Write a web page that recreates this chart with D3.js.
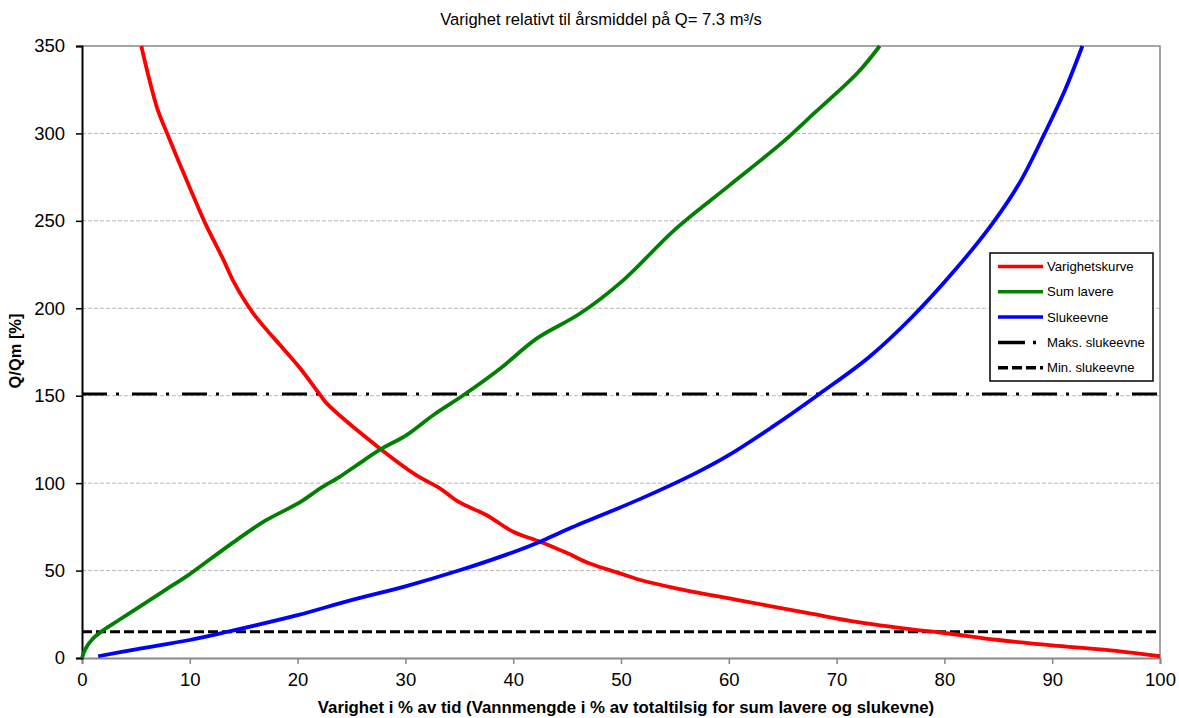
<!DOCTYPE html>
<html>
<head>
<meta charset="utf-8">
<script src="https://cdn.jsdelivr.net/npm/d3@7"></script>
<style>
  body { margin: 0; background: #fff; }
  svg { font-family: Arial, "Liberation Sans", sans-serif; }
</style>
</head>
<body>
<div id="chart"></div>
<script>
/**
 * DATA
 * */
const xTicks = [0, 10, 20, 30, 40, 50, 60, 70, 80, 90, 100];
const yTicks = [0, 50, 100, 150, 200, 250, 300, 350];

// Varighetskurve [x %, Q/Qm %]
const varighet = [
  [5.5, 350], [6.2, 332], [7.05, 313], [7.9, 300], [8.9, 285], [10, 269], [11.4, 249],
  [13.1, 228], [14, 216], [15.9, 197], [18.8, 176], [20.2, 166], [22.1, 150.4],
  [22.7, 145.6], [27.6, 120], [31, 104.6], [33.2, 97], [34.9, 89.4], [37.5, 81.8],
  [40, 72.2], [42.5, 66.5], [45, 60], [47.1, 54], [49.9, 48.4], [51.8, 44.6], [55, 40],
  [61, 33], [67.5, 25.5], [72, 20.5], [76.8, 16.5], [80, 14.3], [85, 10.3], [90, 7.2],
  [95, 4.6], [100, 1]
];
// Sum lavere
const sumLavere = [
  [0, 0], [0.3, 5], [1, 11], [2, 16], [3.5, 22], [5, 28], [7.5, 38], [10, 48], [12, 57],
  [14, 66], [17, 78.5], [20.2, 89], [22.1, 97], [23.9, 103.6], [25.5, 110.3], [27.6, 119],
  [30.1, 127.5], [32.6, 139], [35.4, 150.4], [38.8, 165.6], [42.2, 182.8], [46.2, 197],
  [50.2, 216], [55, 245], [60, 270], [65, 295], [68, 312], [72, 335], [74, 350]
];
// Slukeevne
const slukeevne = [
  [1.5, 1], [5, 5], [10, 10.3], [13.5, 15], [20, 24.5], [24.9, 33], [30, 41], [35.1, 50.3],
  [40, 60.5], [42.5, 66.5], [45, 73.5], [51.8, 91], [56.7, 105], [60, 116], [64, 132],
  [68.4, 151], [73, 172], [77, 195], [81, 222], [84.4, 248], [87, 272], [89.3, 300],
  [91.2, 325], [92.8, 350]
];
const maksSlukeevne = 151;
const minSlukeevne = 15;

const legendItems = ["Varighetskurve", "Sum lavere", "Slukeevne", "Maks. slukeevne", "Min. slukeevne"];

/**
 * CONSTANTS
 * */
const width = 1179, height = 718;
const margin = { top: 46, right: 19, bottom: 60, left: 82 };

const svg = d3.select("#chart").append("svg")
  .attr("width", width)
  .attr("height", height);

const x = d3.scaleLinear().domain([0, 100]).range([margin.left, width - margin.right]);
const y = d3.scaleLinear().domain([0, 350]).range([height - margin.bottom, margin.top]);

// scale a text's font size so it spans the width seen in the picture
function fitWidth(sel, target) {
  const fs = parseFloat(sel.attr("font-size"));
  const w = sel.node().getComputedTextLength();
  if (w > 0) sel.attr("font-size", fs * target / w);
}

// grid
svg.append("g")
  .selectAll("line")
  .data(yTicks.filter(d => d > 0 && d < 350))
  .join("line")
  .attr("x1", x(0)).attr("x2", x(100))
  .attr("y1", d => y(d)).attr("y2", d => y(d))
  .attr("stroke", "#b8b8b8")
  .attr("stroke-dasharray", "4,2");

// top and right border
svg.append("path")
  .attr("d", `M${x(0)},${y(350)}H${x(100)}V${y(0)}`)
  .attr("fill", "none")
  .attr("stroke", "#888")
  .attr("stroke-width", 1.5);

// x axis
const xAxis = svg.append("g")
  .attr("transform", `translate(0,${y(0)})`)
  .call(d3.axisBottom(x).tickValues(xTicks).tickSize(6).tickPadding(9));
xAxis.select(".domain").attr("stroke", "#888").attr("stroke-width", 2);
xAxis.selectAll(".tick line").attr("stroke", "#888").attr("stroke-width", 1.5);
xAxis.selectAll("text").attr("font-size", 18.5).attr("font-family", null).attr("fill", "#000");

// y axis
const yAxis = svg.append("g")
  .attr("transform", `translate(${x(0)},0)`)
  .call(d3.axisLeft(y).tickValues(yTicks).tickSize(6).tickPadding(11));
yAxis.select(".domain").attr("stroke", "#000").attr("stroke-width", 2);
yAxis.selectAll(".tick line").attr("stroke", "#000").attr("stroke-width", 1.5);
yAxis.selectAll("text").attr("font-size", 18.5).attr("font-family", null).attr("fill", "#000");

// horizontal slukeevne lines
svg.append("line")
  .attr("x1", x(0)).attr("x2", x(100))
  .attr("y1", y(maksSlukeevne)).attr("y2", y(maksSlukeevne))
  .attr("stroke", "#000").attr("stroke-width", 3)
  .attr("stroke-dasharray", "25,9,3,13");
svg.append("line")
  .attr("x1", x(0)).attr("x2", x(100))
  .attr("y1", y(minSlukeevne)).attr("y2", y(minSlukeevne))
  .attr("stroke", "#000").attr("stroke-width", 3)
  .attr("stroke-dasharray", "10,4");

// curves
const line = d3.line().x(d => x(d[0])).y(d => y(d[1])).curve(d3.curveCatmullRom.alpha(0.5));
const series = [
  { data: varighet, color: "#ff0000" },
  { data: sumLavere, color: "#008000" },
  { data: slukeevne, color: "#0000ff" }
];
svg.append("g")
  .selectAll("path")
  .data(series)
  .join("path")
  .attr("d", d => line(d.data))
  .attr("fill", "none")
  .attr("stroke", d => d.color)
  .attr("stroke-width", 3.8);

// title
svg.append("text")
  .attr("x", 601).attr("y", 25)
  .attr("text-anchor", "middle")
  .attr("font-size", 15)
  .text("Varighet relativt til årsmiddel på Q= 7.3 m³/s")
  .call(fitWidth, 322);

// axis labels
svg.append("text")
  .attr("x", 626).attr("y", 713)
  .attr("text-anchor", "middle")
  .attr("font-size", 16)
  .attr("font-weight", "bold")
  .text("Varighet i % av tid (Vannmengde i % av totaltilsig for sum lavere og slukevne)")
  .call(fitWidth, 617);
svg.append("text")
  .attr("transform", "translate(21,351) rotate(-90)")
  .attr("text-anchor", "middle")
  .attr("font-size", 15)
  .attr("font-weight", "bold")
  .text("Q/Qm [%]")
  .call(fitWidth, 75);

// legend
const lg = svg.append("g").attr("transform", "translate(990,253)");
lg.append("rect")
  .attr("width", 163).attr("height", 128)
  .attr("fill", "#fff")
  .attr("stroke", "#000").attr("stroke-width", 1.5);
const legendStyles = [
  { color: "#ff0000", dash: null },
  { color: "#008000", dash: null },
  { color: "#0000ff", dash: null },
  { color: "#000", dash: "27,8,3,10" },
  { color: "#000", dash: "10,4" }
];
const rows = lg.selectAll("g.row")
  .data(legendItems)
  .join("g")
  .attr("class", "row")
  .attr("transform", (d, i) => `translate(0,${13.5 + i * 25.3})`);
rows.append("line")
  .attr("x1", 8).attr("x2", 53)
  .attr("stroke", (d, i) => legendStyles[i].color)
  .attr("stroke-width", 3.5)
  .attr("stroke-dasharray", (d, i) => legendStyles[i].dash);
const legendText = rows.append("text")
  .attr("x", 57).attr("y", 4.5)
  .attr("font-size", 13)
  .text(d => d);
// size legend font from the widest entry
const maksNode = legendText.filter(d => d === "Maks. slukeevne");
const legendFs = 13 * 98 / maksNode.node().getComputedTextLength();
legendText.attr("font-size", legendFs);
</script>
</body>
</html>
